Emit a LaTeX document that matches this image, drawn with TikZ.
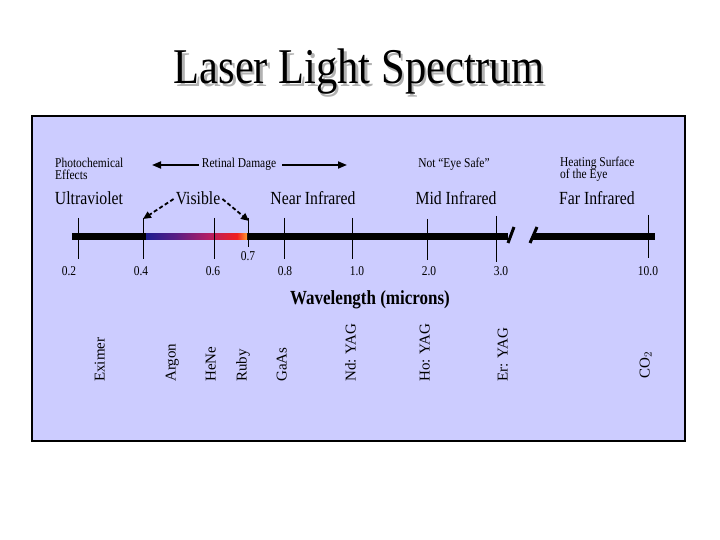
\documentclass[tikz,border=0pt]{standalone}
\usepackage{fontspec}
\setmainfont{Liberation Serif}[FakeStretch=0.85]
\newfontfamily\rotfont{Liberation Serif}
\usetikzlibrary{arrows.meta}
\definecolor{panel}{HTML}{CCCCFF}
\definecolor{specA}{HTML}{1E1E90}
\definecolor{specB}{HTML}{5A1E84}
\definecolor{specC}{HTML}{B41E64}
\definecolor{specD}{HTML}{F02020}
\definecolor{specE}{HTML}{FF9A30}
\pgfdeclarehorizontalshading{visspec}{100bp}{color(0bp)=(specA); color(25bp)=(specA); color(40bp)=(specB); color(56bp)=(specC); color(70bp)=(specD); color(75bp)=(specE); color(100bp)=(specE)}
\begin{document}
\begin{tikzpicture}[x=1pt,y=-1pt,
  smalltxt/.style={font=\fontsize{13.5}{12.5}\selectfont, inner sep=0pt, align=left},
  regiontxt/.style={font=\fontsize{18.5}{20}\selectfont, inner sep=0pt},
  numtxt/.style={font=\fontsize{13.5}{14}\selectfont, inner sep=0pt},
  lasertxt/.style={font=\rotfont\fontsize{15}{16}\selectfont, rotate=90, anchor=west, inner sep=0pt, text height=1.4ex, text depth=0.3ex},
  tickline/.style={line width=1pt},
  barline/.style={line width=7pt},
  breakmark/.style={line width=3pt},
  solidarrow/.style={line width=1.8pt, -{Triangle[length=9pt,width=7pt]}},
  dasharrow/.style={line width=1.8pt, dash pattern=on 4pt off 2.5pt, -{Triangle[length=8pt,width=7pt]}}]
\useasboundingbox (0,0) rectangle (720,540);
\fill[white] (0,0) rectangle (720,540);
% title with shadow
\node (title) [font=\fontsize{50}{52}\selectfont, inner sep=0pt] at (359,73)
  {\rlap{\kern2.5pt\raisebox{-2.5pt}{\color{black!30}Laser Light Spectrum}}Laser Light Spectrum};
% panel
\draw[fill=panel, line width=1.5pt] (32,116) rectangle (685,441);
% bar
\draw[barline] (72,236) -- (508,236);
\draw[barline] (533,236) -- (655,236);
\shade[shading=visspec] (146,233) rectangle (247,239);
\draw[breakmark] (508,243) -- (514,227);
\draw[breakmark] (530,243) -- (537,227);
% ticks
\coordinate (t02) at (78,218);  \coordinate (b02) at (78,259);
\coordinate (t04) at (143,218); \coordinate (b04) at (143,259);
\coordinate (t06) at (214,218); \coordinate (b06) at (214,259);
\coordinate (t07) at (248,218); \coordinate (b07) at (248,247);
\coordinate (t08) at (284,218); \coordinate (b08) at (284,259);
\coordinate (t10) at (352,218); \coordinate (b10) at (352,259);
\coordinate (t20) at (427,219); \coordinate (b20) at (427,260);
\coordinate (t30) at (496,216); \coordinate (b30) at (496,262);
\coordinate (t100) at (648,215); \coordinate (b100) at (648,258);
\foreach \t in {02,04,06,07,08,10,20,30,100} \draw[tickline] (t\t) -- (b\t);
% tick labels
\node (n02) [numtxt] at (69,271) {0.2};
\node (n04) [numtxt] at (141,271) {0.4};
\node (n06) [numtxt] at (213,271) {0.6};
\node (n07) [numtxt] at (248,256) {0.7};
\node (n08) [numtxt] at (285,271) {0.8};
\node (n10) [numtxt] at (357,271) {1.0};
\node (n20) [numtxt] at (429,271) {2.0};
\node (n30) [numtxt] at (501,271) {3.0};
\node (n100) [numtxt] at (648,271) {10.0};
% top texts
\node (photo) [smalltxt, anchor=west] at (55,169) {Photochemical\\Effects};
\node (retinal) [smalltxt] at (239,164) {Retinal Damage};
\node (noteye) [smalltxt] at (454,164) {Not “Eye Safe”};
\node (heating) [smalltxt, anchor=west] at (560,169) {Heating Surface\\of the Eye};
\coordinate (retL) at (152,165);
\coordinate (retR) at (347,165);
\draw[solidarrow] ([xshift=-3pt]retinal.west |- retL) -- (retL);
\draw[solidarrow] ([xshift=6pt]retinal.east |- retR) -- (retR);
% regions
\node (uv) [regiontxt] at (89,198) {Ultraviolet};
\node (vis) [regiontxt] at (198,198) {Visible};
\node (nir) [regiontxt] at (313,198) {Near Infrared};
\node (mir) [regiontxt] at (456,198) {Mid Infrared};
\node (fir) [regiontxt] at (597,198) {Far Infrared};
\draw[dasharrow] ([xshift=-2pt,yshift=-1pt]vis.west) -- ([yshift=-1pt]t04);
\draw[dasharrow] ([xshift=2pt,yshift=-1pt]vis.east) -- ([xshift=1pt,yshift=-3pt]t07);
% axis title
\node (axis) [font=\bfseries\fontsize{20}{21}\selectfont, inner sep=0pt] at (370,300) {Wavelength (microns)};
% lasers
\node (eximer) [lasertxt] at (102,382) {Eximer};
\node (argon) [lasertxt] at (173,382) {Argon};
\node (hene) [lasertxt] at (213,382) {HeNe};
\node (ruby) [lasertxt] at (244,382) {Ruby};
\node (gaas) [lasertxt] at (284,382) {GaAs};
\node (ndyag) [lasertxt] at (353,382) {Nd: YAG};
\node (hoyag) [lasertxt] at (427,382) {Ho: YAG};
\node (eryag) [lasertxt] at (505,382) {Er: YAG};
\node (co2) [lasertxt] at (647,379) {CO$_2$};
\end{tikzpicture}
\end{document}
